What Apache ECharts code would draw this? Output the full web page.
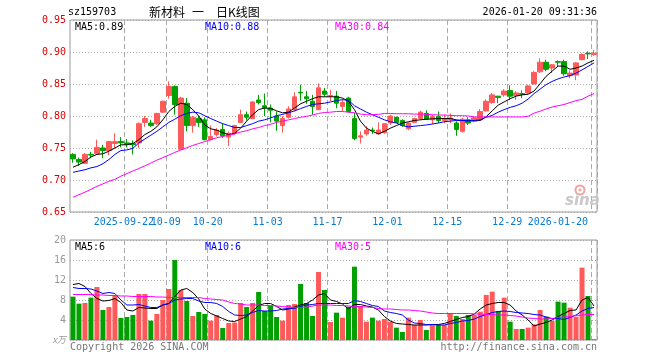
<!DOCTYPE html>
<html><head><meta charset="utf-8">
<script src="https://cdn.jsdelivr.net/npm/echarts@6/dist/echarts.min.js"></script>
<style>html,body{margin:0;padding:0;background:#fff}#c{width:660px;height:360px}</style>
</head><body><div id="c"></div>
<script>
const dates = [
'2025-09-09','2025-09-10','2025-09-11','2025-09-12','2025-09-15','2025-09-16','2025-09-17','2025-09-18','2025-09-19','2025-09-22',
'2025-09-23','2025-09-24','2025-09-25','2025-09-26','2025-09-29','2025-09-30','2025-10-09','2025-10-10','2025-10-13','2025-10-14',
'2025-10-15','2025-10-16','2025-10-17','2025-10-20','2025-10-21','2025-10-22','2025-10-23','2025-10-24','2025-10-27','2025-10-28',
'2025-10-29','2025-10-30','2025-10-31','2025-11-03','2025-11-04','2025-11-05','2025-11-06','2025-11-07','2025-11-10','2025-11-11',
'2025-11-12','2025-11-13','2025-11-14','2025-11-17','2025-11-18','2025-11-19','2025-11-20','2025-11-21','2025-11-24','2025-11-25',
'2025-11-26','2025-11-27','2025-11-28','2025-12-01','2025-12-02','2025-12-03','2025-12-04','2025-12-05','2025-12-08','2025-12-09',
'2025-12-10','2025-12-11','2025-12-12','2025-12-15','2025-12-16','2025-12-17','2025-12-18','2025-12-19','2025-12-22','2025-12-23',
'2025-12-24','2025-12-25','2025-12-26','2025-12-29','2025-12-30','2025-12-31','2026-01-05','2026-01-06','2026-01-07','2026-01-08',
'2026-01-09','2026-01-12','2026-01-13','2026-01-14','2026-01-15','2026-01-16','2026-01-19','2026-01-20'];

const opens = [
0.740,0.732,0.726,0.740,0.741,0.750,0.746,0.757,0.760,0.758,
0.757,0.758,0.790,0.789,0.788,0.806,0.832,0.846,0.748,0.820,
0.785,0.796,0.794,0.763,0.771,0.779,0.767,0.773,0.790,0.802,
0.796,0.825,0.816,0.8125,0.800,0.785,0.798,0.810,0.837,0.830,
0.823,0.810,0.839,0.831,0.831,0.815,0.828,0.796,0.767,0.772,
0.778,0.772,0.774,0.789,0.798,0.793,0.780,0.790,0.796,0.804,
0.794,0.799,0.793,0.794,0.789,0.776,0.794,0.792,0.794,0.808,
0.821,0.831,0.833,0.840,0.832,0.835,0.836,0.850,0.869,0.884,
0.875,0.885,0.885,0.863,0.864,0.888,0.898,0.896];
const closes = [
0.733,0.728,0.740,0.739,0.751,0.746,0.760,0.760,0.758,0.756,
0.755,0.788,0.796,0.785,0.804,0.823,0.846,0.818,0.828,0.785,
0.798,0.790,0.763,0.768,0.778,0.769,0.773,0.785,0.802,0.798,
0.822,0.821,0.813,0.809,0.792,0.796,0.811,0.830,0.836,0.827,
0.815,0.844,0.834,0.832,0.820,0.821,0.807,0.765,0.769,0.778,
0.777,0.778,0.788,0.800,0.790,0.785,0.789,0.796,0.806,0.795,
0.799,0.793,0.796,0.797,0.779,0.795,0.789,0.797,0.807,0.823,
0.833,0.829,0.839,0.831,0.836,0.834,0.847,0.868,0.884,0.873,
0.880,0.884,0.866,0.867,0.883,0.896,0.897,0.898];
const highs = [
0.742,0.735,0.742,0.744,0.763,0.755,0.761,0.773,0.767,0.764,
0.762,0.790,0.800,0.794,0.805,0.824,0.854,0.848,0.830,0.828,
0.800,0.800,0.798,0.785,0.781,0.789,0.776,0.786,0.810,0.807,
0.823,0.833,0.835,0.818,0.807,0.800,0.815,0.837,0.849,0.839,
0.833,0.851,0.844,0.841,0.839,0.826,0.830,0.805,0.776,0.784,
0.782,0.790,0.789,0.802,0.799,0.795,0.790,0.797,0.808,0.809,
0.802,0.807,0.802,0.804,0.792,0.797,0.798,0.800,0.811,0.826,
0.836,0.831,0.842,0.848,0.839,0.840,0.849,0.870,0.890,0.888,
0.881,0.887,0.888,0.871,0.884,0.898,0.901,0.903];
const lows = [
0.727,0.722,0.725,0.734,0.740,0.734,0.739,0.750,0.751,0.751,
0.740,0.750,0.783,0.783,0.786,0.805,0.827,0.802,0.747,0.776,
0.774,0.783,0.762,0.762,0.768,0.766,0.753,0.771,0.789,0.793,
0.795,0.818,0.800,0.790,0.777,0.774,0.796,0.807,0.824,0.819,
0.802,0.809,0.830,0.823,0.812,0.807,0.805,0.762,0.757,0.769,
0.772,0.771,0.772,0.786,0.789,0.783,0.778,0.789,0.794,0.794,
0.787,0.789,0.789,0.789,0.769,0.774,0.786,0.790,0.793,0.807,
0.819,0.820,0.830,0.825,0.825,0.828,0.835,0.849,0.867,0.870,
0.867,0.878,0.863,0.859,0.856,0.887,0.889,0.894];

const ma5 = [
0.720,0.724,0.729,0.736,0.740,0.741,0.745,0.750,0.755,0.755,
0.757,0.763,0.771,0.776,0.783,0.794,0.807,0.815,0.820,0.818,
0.810,0.800,0.786,0.780,0.778,0.774,0.771,0.773,0.781,0.792,
0.802,0.810,0.8125,0.812,0.808,0.805,0.806,0.8125,0.819,0.823,
0.827,0.830,0.830,0.830,0.830,0.828,0.823,0.810,0.792,0.781,
0.776,0.772,0.776,0.781,0.785,0.789,0.791,0.793,0.794,0.795,
0.7955,0.796,0.796,0.796,0.794,0.793,0.7925,0.7925,0.793,0.799,
0.808,0.817,0.822,0.827,0.831,0.833,0.834,0.839,0.8505,0.862,
0.870,0.878,0.878,0.873,0.875,0.878,0.883,0.887];
const ma10 = [
0.712,0.714,0.716,0.719,0.721,0.7255,0.732,0.740,0.746,0.747,
0.7495,0.758,0.764,0.770,0.776,0.783,0.790,0.795,0.8005,0.804,
0.806,0.805,0.8005,0.796,0.792,0.788,0.785,0.782,0.782,0.785,
0.788,0.792,0.794,0.797,0.8005,0.8025,0.805,0.808,0.8115,0.815,
0.818,0.819,0.820,0.822,0.824,0.8255,0.8245,0.816,0.811,0.806,
0.802,0.798,0.794,0.791,0.789,0.785,0.783,0.784,0.785,0.786,
0.7875,0.789,0.791,0.792,0.793,0.793,0.793,0.793,0.794,0.798,
0.801,0.806,0.810,0.8135,0.816,0.820,0.8265,0.835,0.842,0.849,
0.854,0.858,0.861,0.863,0.867,0.872,0.8775,0.883];
const ma30 = [
0.673,0.677,0.681,0.6855,0.690,0.694,0.698,0.701,0.706,0.710,
0.714,0.718,0.722,0.7265,0.731,0.735,0.739,0.743,0.747,0.7505,
0.754,0.757,0.760,0.763,0.766,0.768,0.770,0.772,0.775,0.777,
0.780,0.782,0.785,0.787,0.790,0.792,0.794,0.796,0.798,0.7995,
0.8015,0.804,0.8055,0.806,0.807,0.807,0.806,0.805,0.803,0.802,
0.802,0.8025,0.804,0.804,0.8035,0.8035,0.8035,0.803,0.803,0.8025,
0.802,0.8015,0.8015,0.801,0.8005,0.8005,0.800,0.7985,0.7985,0.7985,
0.7985,0.7985,0.7985,0.7985,0.7985,0.7985,0.7995,0.8045,0.8075,0.811,
0.814,0.816,0.818,0.821,0.824,0.826,0.831,0.835];

const volumes = [
8.67,7.27,7.4,8.47,10.6,6.0,6.6,9.0,4.4,4.6,
5.0,9.2,9.2,3.87,5.2,8.0,10.2,16.0,10.0,7.8,
4.8,5.6,5.2,3.87,5.0,2.4,3.4,3.5,7.4,6.6,
7.4,9.6,5.8,6.8,4.6,3.87,7.0,7.2,11.2,7.4,
4.8,13.6,10.0,3.6,5.47,4.47,6.67,14.67,6.8,3.67,
4.47,3.87,4.2,3.67,2.47,1.6,4.47,3.0,4.0,2.0,
3.0,3.0,3.0,5.33,4.8,4.2,5.0,5.0,5.67,9.0,
9.67,5.8,8.47,3.67,2.2,2.2,2.47,3.13,6.0,4.67,
3.8,7.67,7.47,6.47,4.67,14.47,8.8,0.2];
const volMa5 = [
11.1,11.3,10.7,9.3,8.3,7.8,7.9,8.3,7.5,6.0,
5.8,6.5,6.4,6.3,6.3,7.0,7.3,8.7,10.0,10.3,
9.5,8.2,6.2,5.3,4.8,4.3,3.8,3.7,4.2,4.7,
5.8,6.9,7.3,7.3,6.7,6.0,6.2,6.6,7.0,7.3,
8.0,9.0,9.3,8.0,7.7,7.2,6.2,7.1,7.1,6.8,
6.6,6.0,4.7,3.8,3.3,3.2,3.1,3.0,3.0,3.0,
3.1,3.1,3.3,3.7,4.1,4.5,4.7,5.2,6.2,7.0,
7.3,7.5,7.5,7.0,5.8,5.0,4.0,2.8,3.2,3.5,
4.0,4.7,5.3,5.9,6.0,8.0,8.5,6.8];
const volMa10 = [
10.5,10.3,10.3,10.2,9.8,9.3,9.5,9.3,8.0,7.0,
7.0,7.1,6.8,6.5,6.5,7.0,7.3,8.0,8.2,8.3,
8.3,7.8,7.5,7.5,7.3,6.7,5.7,5.0,4.9,5.0,
5.5,5.9,5.8,5.8,5.9,6.2,6.3,6.3,6.7,7.0,
7.1,7.3,7.3,7.3,7.3,7.3,7.3,7.9,7.7,7.3,
6.9,6.7,5.8,5.5,5.3,5.0,4.0,3.4,3.3,3.1,
3.1,3.0,3.0,3.3,3.5,3.8,3.9,4.2,4.7,5.1,
5.5,5.7,5.8,5.7,5.5,5.4,5.3,5.1,5.0,4.6,
4.3,4.3,4.1,4.5,5.0,5.8,6.3,6.5];
const volMa30 = [
9.1,9.1,9.1,9.1,9.0,9.0,8.9,8.9,8.8,8.8,
8.7,8.7,8.7,8.7,8.6,8.6,8.5,8.5,8.5,8.5,
8.5,8.5,8.3,8.2,8.1,8.0,7.6,7.3,7.2,7.0,
7.0,7.0,6.9,6.9,6.8,6.7,6.6,6.5,6.5,6.6,
6.8,7.0,7.0,7.0,6.9,6.9,6.8,6.7,6.7,6.6,
6.5,6.3,6.2,6.2,6.1,6.0,6.0,5.9,5.8,5.6,
5.4,5.3,5.3,5.3,5.3,5.3,5.3,5.2,5.2,5.1,
5.1,5.0,5.0,4.9,4.8,4.6,4.4,4.3,4.2,4.2,
4.3,4.5,4.6,4.7,4.9,5.0,5.1,5.1];

const tickIndex = [9,16,23,33,43,53,63,73,87];
const tickLabels = ['2025-09-22','10-09','10-20','11-03','11-17','12-01','12-15','12-29','2026-01-20'];
const priceTicks = {min:0.65, max:0.95, step:0.05};
const volTicks = {min:0, max:20, step:4};
const legendPrice = ['MA5:0.89','MA10:0.88','MA30:0.84'];
const legendVol = ['MA5:6','MA10:6','MA30:5'];

const RED = '#ff5a5a', GREEN = '#00a000';
const MONO = '"DejaVu Sans Mono", monospace';
const isTick = (i) => tickIndex.indexOf(i) >= 0;
const GL = 70, GR = 63;

const chart = echarts.init(document.getElementById('c'), null, {renderer:'canvas'});

function txt(x, y, text, fill, opts) {
  opts = opts || {};
  return {type:'text', x:x, y:y, z:100, silent:true,
    style:{text:text, fill:fill, font:opts.font || ('10px ' + MONO),
      align:opts.align || 'left', textAlign:opts.align || 'left',
      verticalAlign:'middle', textVerticalAlign:'middle'}};
}

const xSplit = {show:true, interval:(i)=>isTick(i), lineStyle:{color:'#aaa', width:1, type:[5,3]}};

const option = {
  animation:false,
  backgroundColor:'#fff',
  grid:[
    {left:GL, right:GR, top:20, height:192, show:true, borderColor:'#999', borderWidth:1, backgroundColor:'transparent'},
    {left:GL, right:GR, top:240, height:100, show:true, borderColor:'#999', borderWidth:1, backgroundColor:'transparent'}
  ],
  xAxis:[
    {type:'category', gridIndex:0, data:dates, boundaryGap:true,
     axisLine:{show:false}, axisTick:{show:false},
     axisLabel:{show:true, interval:0,
       formatter:(v,i)=>{ const k = tickIndex.indexOf(i); return k >= 0 ? tickLabels[k] : ''; },
       color:'#0a7ad0', fontFamily:MONO, fontSize:10, margin:5,
       padding:[0,6,0,0], alignMaxLabel:'right', hideOverlap:false},
     splitLine:xSplit},
    {type:'category', gridIndex:1, data:dates, boundaryGap:true,
     axisLine:{show:false}, axisTick:{show:false}, axisLabel:{show:false},
     splitLine:xSplit}
  ],
  yAxis:[
    {type:'value', gridIndex:0, min:priceTicks.min, max:priceTicks.max, interval:priceTicks.step,
     axisLine:{show:false}, axisTick:{show:false},
     axisLabel:{color:'#e00000', fontFamily:MONO, fontSize:10, margin:4, formatter:(v)=>v.toFixed(2),
       showMinLabel:true, showMaxLabel:true},
     splitLine:{show:true, lineStyle:{color:'#aaa', width:1, type:[1,2]}}},
    {type:'value', gridIndex:1, min:volTicks.min, max:volTicks.max, interval:volTicks.step,
     axisLine:{show:false}, axisTick:{show:false},
     axisLabel:{color:'#999', fontFamily:MONO, fontSize:10, margin:4,
       showMinLabel:true, showMaxLabel:true,
       formatter:(v)=> v===0 ? '{u|x万}' : String(v),
       rich:{u:{fontSize:9, color:'#999', fontStyle:'italic', fontFamily:'"Noto Sans CJK SC", sans-serif'}}},
     splitLine:{show:true, lineStyle:{color:'#aaa', width:1, type:[1,2]}}}
  ],
  series:[
    {type:'candlestick', xAxisIndex:0, yAxisIndex:0, barWidth:5,
     data:dates.map((d,i)=>[opens[i], closes[i], lows[i], highs[i]]),
     itemStyle:{color:RED, color0:GREEN, borderColor:RED, borderColor0:GREEN, borderWidth:1}},
    {type:'line', xAxisIndex:0, yAxisIndex:0, data:ma5, symbol:'none', silent:true, lineStyle:{color:'#000', width:1}, z:5},
    {type:'line', xAxisIndex:0, yAxisIndex:0, data:ma10, symbol:'none', silent:true, lineStyle:{color:'#0000ff', width:1}, z:5},
    {type:'line', xAxisIndex:0, yAxisIndex:0, data:ma30, symbol:'none', silent:true, lineStyle:{color:'#ff00ff', width:1}, z:5},
    {type:'bar', xAxisIndex:1, yAxisIndex:1, barWidth:5,
     data:volumes.map((v,i)=>({value:v, itemStyle:{color: closes[i] >= opens[i] ? RED : GREEN}}))},
    {type:'line', xAxisIndex:1, yAxisIndex:1, data:volMa5, symbol:'none', silent:true, lineStyle:{color:'#000', width:1}, z:5},
    {type:'line', xAxisIndex:1, yAxisIndex:1, data:volMa10, symbol:'none', silent:true, lineStyle:{color:'#0000ff', width:1}, z:5},
    {type:'line', xAxisIndex:1, yAxisIndex:1, data:volMa30, symbol:'none', silent:true, lineStyle:{color:'#ff00ff', width:1}, z:5}
  ],
  graphic:[
    txt(68, 12, 'sz159703', '#000'),
    txt(149, 12, '新材料', '#000', {font:'12px "Noto Sans CJK SC", sans-serif'}),
    txt(192, 12, '一', '#000', {font:'12px "Noto Sans CJK SC", sans-serif'}),
    txt(216, 12, '日K线图', '#000', {font:'12px "Noto Sans CJK SC", sans-serif'}),
    txt(597, 12, '2026-01-20 09:31:36', '#000', {align:'right'}),
    txt(75, 27, legendPrice[0], '#000'),
    txt(205, 27, legendPrice[1], '#0000ff'),
    txt(335, 27, legendPrice[2], '#ff00ff'),
    txt(75, 247, legendVol[0], '#000'),
    txt(205, 247, legendVol[1], '#0000ff'),
    txt(335, 247, legendVol[2], '#ff00ff'),
    txt(70, 347, 'Copyright 2026 SINA.COM', '#777'),
    txt(597, 347, 'http://finance.sina.com.cn', '#777', {align:'right'}),
    {type:'circle', z:1, silent:true, shape:{cx:580, cy:190, r:4.5}, style:{fill:'none', stroke:'#f4a0a0', lineWidth:2}},
    {type:'circle', z:1, silent:true, shape:{cx:580, cy:190, r:1.5}, style:{fill:'#f4a0a0'}},
    txt(565, 201, 'sina', '#c8c8c8', {font:'italic bold 15px "DejaVu Sans", sans-serif'})
  ]
};
chart.setOption(option);
</script>
</body></html>
